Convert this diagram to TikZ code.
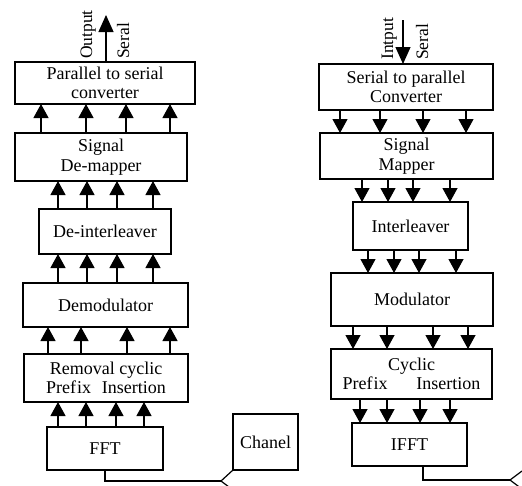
\documentclass[tikz,border=0pt]{standalone}
\usepackage{fontspec}
\setmainfont{Liberation Serif}
\usetikzlibrary{arrows.meta}
\begin{document}
\begin{tikzpicture}[x=1pt,y=-1pt,
  box/.style={draw,line width=1.4pt,inner sep=0pt,outer sep=0pt,align=center,
    font=\fontsize{18}{19.5}\selectfont},
  arr/.style={line width=1.2pt,-{Triangle[width=15pt,length=14pt]}},
  lbl/.style={rotate=90,anchor=base west,inner sep=0pt,font=\fontsize{17.5}{18}\selectfont},
  wire/.style={line width=1.2pt}]
\useasboundingbox (0,0) rectangle (522,485);
\clip (0,0) rectangle (522,485);
% left chain (receiver)
\node[box,minimum width=180pt,minimum height=42pt] (ps) at (105,83) {Parallel to serial\\converter};
\node[box,minimum width=172pt,minimum height=48pt] (sdm) at (101,157) {Signal\\De-mapper};
\node[box,minimum width=132pt,minimum height=45pt] (dei) at (105,231.5) {De-interleaver};
\node[box,minimum width=165pt,minimum height=44pt] (dem) at (105.5,305) {Demodulator};
\node[box,minimum width=164pt,minimum height=48pt] (rcp) at (106,378) {Removal cyclic\\Pref\kern1pt ix\hspace{0.6em}Insertion};
\node[box,minimum width=116pt,minimum height=43pt] (fft) at (105,448.5) {FFT};
\node[box,minimum width=65pt,minimum height=56pt] (chan) at (265.5,442) {Chanel};
% right chain (transmitter)
\node[box,minimum width=174pt,minimum height=46pt] (sp) at (406,87) {Serial to parallel\\Converter};
\node[box,minimum width=173pt,minimum height=46pt] (sm) at (406.5,156) {Signal\\Mapper};
\node[box,minimum width=115pt,minimum height=48pt] (il) at (410.5,226) {Interleaver};
\node[box,minimum width=162pt,minimum height=53pt] (mod) at (412,299.5) {Modulator};
\node[box,minimum width=161pt,minimum height=50pt] (cp) at (411.5,374) {Cyclic\\Pref\kern1pt ix\hspace{1.6em}Insertion};
\node[box,minimum width=115pt,minimum height=43pt] (ifft) at (409.5,444.5) {IFFT};
% output / input
\coordinate (out) at (106,15);
\coordinate (in) at (403,20);
\draw[wire,-{Triangle[width=15pt,length=17pt]}] (ps.north -| out) -- (out);
\draw[wire,-{Triangle[width=15pt,length=17pt]}] (in) -- (sp.north -| in);
\node[lbl] (outl) at (92,59) {Output};
\node[lbl] (ser1) at (129,59) {Seral};
\node[lbl] (inl) at (393,60) {Intput};
\node[lbl] (ser2) at (428,60) {Seral};
% left arrows (upward)
\foreach \x in {41,86,126,170} \draw[arr] (sdm.north -| \x,0) -- (ps.south -| \x,0);
\foreach \x in {58,87,117,153} \draw[arr] (dei.north -| \x,0) -- (sdm.south -| \x,0);
\foreach \x in {58,87,117,153} \draw[arr] (dem.north -| \x,0) -- (dei.south -| \x,0);
\foreach \x in {48,81,127,170} \draw[arr] (rcp.north -| \x,0) -- (dem.south -| \x,0);
\foreach \x in {58,86,116,144} \draw[arr] (fft.north -| \x,0) -- (rcp.south -| \x,0);
% right arrows (downward)
\foreach \x in {340,380,423,466} \draw[arr] (sp.south -| \x,0) -- (sm.north -| \x,0);
\foreach \x in {362,388,413,450} \draw[arr] (sm.south -| \x,0) -- (il.north -| \x,0);
\foreach \x in {368,394,419,456} \draw[arr] (il.south -| \x,0) -- (mod.north -| \x,0);
\foreach \x in {353,387,433,468} \draw[arr] (mod.south -| \x,0) -- (cp.north -| \x,0);
\foreach \x in {360,387,420,450} \draw[arr] (cp.south -| \x,0) -- (ifft.north -| \x,0);
% antenna-like wires
\coordinate (va) at (221,481);
\coordinate (vb) at (510,480);
\draw[wire] (fft.south) -- (fft.south |- va) -- (va);
\draw[wire] (chan.south west) -- (va) -- (233,490);
\draw[wire] (ifft.south -| 423,0) -- (423,480) -- (vb);
\draw[wire] (522,471) -- (vb) -- (522,489);
\end{tikzpicture}
\end{document}
